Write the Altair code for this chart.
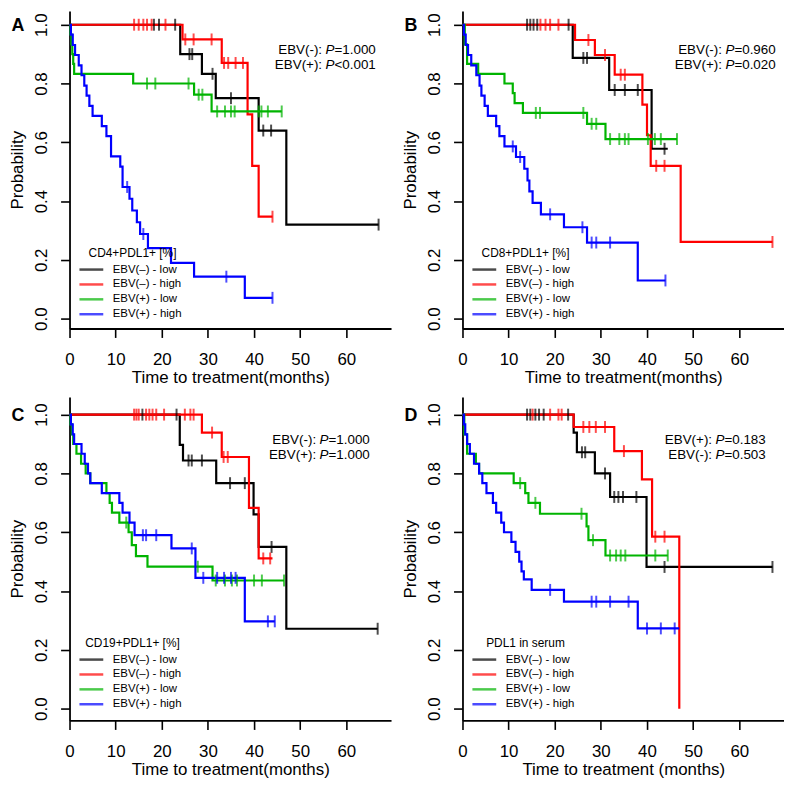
import altair as alt
import pandas as pd

GROUPS = ["EBV(–) - low", "EBV(–) - high", "EBV(+) - low", "EBV(+) - high"]
COLORS = ["#000000", "#FF0000", "#00B400", "#0000FF"]

# ---------------- Panel A : CD4+PDL1+ ----------------
A_nl_t = [0, 24, 28.7, 31.7, 41, 47]
A_nl_s = [1, 0.90, 0.833, 0.75, 0.64, 0.32]
A_nl_end = 67
A_nl_cens = [18.3, 19.4, 22.9, 26, 26.6, 31, 35, 42, 43.7, 67]

A_nh_t = [0, 24.5, 33, 38.6, 39.6, 41]
A_nh_s = [1, 0.95, 0.87, 0.695, 0.52, 0.347]
A_nh_end = 44
A_nh_cens = [14, 15, 16, 16.8, 17.8, 20.8, 25.1, 26.9, 30.8, 33.5, 34.4, 36, 37.6, 44]

A_pl_t = [0, 0.2, 0.4, 0.6, 0.8, 1.0, 13.8, 27, 30.8]
A_pl_s = [1, 0.967, 0.933, 0.9, 0.867, 0.833, 0.80, 0.762, 0.705]
A_pl_end = 46
A_pl_cens = [16.8, 18.6, 25.8, 28, 28.8, 32, 33.7, 35, 35.8, 41, 41.6, 43, 46]

A_ph_t = [0, 0.3, 0.7, 1.2, 2.0, 2.6, 3.2, 3.7, 4.3, 5.0, 7.0, 8.0, 9.0, 11.0, 11.5,
          13.0, 13.6, 14.6, 15.3, 17.0, 22.0, 27.0, 38.0]
A_ph_s = [1, 0.966, 0.931, 0.897, 0.862, 0.828, 0.793, 0.759, 0.724, 0.690, 0.655, 0.621,
          0.552, 0.517, 0.448, 0.408, 0.368, 0.328, 0.288, 0.24, 0.19, 0.143, 0.071]
A_ph_end = 44
A_ph_cens = [12.5, 16, 34, 44]

# ---------------- Panel B : CD8+PDL1+ ----------------
B_nl_t = [0, 23.9, 31.8, 41]
B_nl_s = [1, 0.887, 0.778, 0.578]
B_nl_end = 44.5
B_nl_cens = [14, 14.7, 15.4, 16.2, 23, 26.2, 27, 33, 35.2, 38, 43.8]

B_nh_t = [0, 24.4, 28.7, 33, 39, 40, 40.8, 47.3]
B_nh_s = [1, 0.948, 0.897, 0.83, 0.728, 0.624, 0.52, 0.261]
B_nh_end = 67.2
B_nh_cens = [16.9, 18, 19, 20.8, 27.3, 30.9, 34.3, 35.2, 42, 43.8, 67.2]

B_pl_t = [0, 0.5, 1.0, 3.4, 9.1, 10.9, 11.3, 13.1, 27, 31]
B_pl_s = [1, 0.933, 0.867, 0.833, 0.80, 0.767, 0.733, 0.70, 0.663, 0.611]
B_pl_end = 46.5
B_pl_cens = [15.9, 16.8, 26.2, 28, 29, 32, 34, 35.2, 36, 40.2, 41.7, 43, 46.5]

B_ph_t = [0, 0.3, 0.7, 1.2, 1.9, 3.0, 3.7, 4.1, 4.8, 5.5, 7.3, 8.0, 9.1, 11.6, 13.4,
          14.1, 14.5, 15.2, 17, 22, 27, 38]
B_ph_s = [1, 0.966, 0.931, 0.897, 0.862, 0.828, 0.793, 0.759, 0.724, 0.690, 0.655, 0.621,
          0.586, 0.55, 0.51, 0.47, 0.433, 0.394, 0.355, 0.311, 0.259, 0.13]
B_ph_end = 44
B_ph_cens = [10.9, 12.5, 19, 26, 28, 29, 32, 44]

# ---------------- Panel C : CD19+PDL1+ ----------------
C_nl_t = [0, 23.9, 24.6, 31.8, 39.9, 41, 47]
C_nl_s = [1, 0.897, 0.844, 0.767, 0.661, 0.55, 0.272]
C_nl_end = 66.8
C_nl_cens = [15.8, 23.2, 25.8, 26.5, 28.7, 34.8, 38, 43.8, 66.8]

C_nh_t = [0, 28.7, 33, 38.9, 41]
C_nh_s = [1, 0.939, 0.856, 0.683, 0.511]
C_nh_end = 44
C_nh_cens = [14, 14.5, 15, 16.6, 17.3, 18, 18.8, 20.5, 25, 26.2, 26.9, 30.9, 33.4, 34.3, 42, 43.5]

C_pl_t = [0, 0.2, 0.5, 0.8, 1.5, 2.5, 3.5, 4.5, 8.0, 8.7, 9.2, 10.8, 12.8, 13.5, 14.4, 16.9, 31]
C_pl_s = [1, 0.967, 0.933, 0.9, 0.867, 0.833, 0.80, 0.767, 0.733, 0.70, 0.667, 0.633,
          0.60, 0.556, 0.519, 0.483, 0.436]
C_pl_end = 46.5
C_pl_cens = [12.3, 27.8, 31.7, 33.7, 35.2, 36.3, 40, 41.7, 46.5]

C_ph_t = [0, 0.3, 0.7, 1.0, 2.6, 3.3, 4.0, 4.5, 7.0, 10.8, 11.5, 13.0, 14.1, 22.1, 27.3, 38]
C_ph_s = [1, 0.967, 0.933, 0.90, 0.867, 0.833, 0.80, 0.767, 0.733, 0.70, 0.667, 0.633,
          0.59, 0.545, 0.445, 0.297]
C_ph_end = 44.5
C_ph_cens = [15.9, 16.6, 18.8, 26.5, 29, 32, 33.5, 35, 36, 43, 44.5]

# ---------------- Panel D : PDL1 in serum ----------------
D_nl_t = [0, 24.1, 24.8, 28.7, 32, 39.9]
D_nl_s = [1, 0.939, 0.872, 0.80, 0.72, 0.482]
D_nl_end = 67.2
D_nl_cens = [14, 14.7, 15.8, 16.6, 17.6, 22.9, 25.9, 26.6, 30.9, 32.9, 33.8, 34.8, 37.7, 43.8, 67.2]

D_nh_t = [0, 24.1, 32.9, 38.9, 41.1, 47]
D_nh_s = [1, 0.958, 0.876, 0.78, 0.585, 0.0]
D_nh_end = 47
D_nh_cens = [15.2, 19, 20.8, 21.5, 26.2, 27.5, 28.9, 30.9, 35, 41.8, 43.8]

D_pl_t = [0, 0.4, 1.0, 2.9, 3.6, 11.1, 13.6, 14.3, 16.8, 26.9, 27.3, 31]
D_pl_s = [1, 0.933, 0.867, 0.833, 0.80, 0.767, 0.733, 0.70, 0.663, 0.62, 0.573, 0.521]
D_pl_end = 44.5
D_pl_cens = [12.5, 15.8, 25.8, 28.3, 32, 33.3, 34.3, 35.3, 41.8, 44.5]

D_ph_t = [0, 0.3, 0.6, 1.0, 1.6, 2.5, 3.6, 4.3, 5.2, 6.6, 7.3, 8.4, 9.0, 10.6, 11.5,
          12.3, 12.8, 13.3, 15, 22, 38]
D_ph_s = [1, 0.967, 0.933, 0.9, 0.867, 0.833, 0.80, 0.767, 0.733, 0.70, 0.667, 0.633,
          0.60, 0.567, 0.533, 0.50, 0.467, 0.44, 0.404, 0.364, 0.273]
D_ph_end = 47
D_ph_cens = [19, 28, 29, 32, 36, 40, 43, 46]

LEGEND_TITLES = ["CD4+PDL1+ [%]", "CD8+PDL1+ [%]", "CD19+PDL1+ [%]", "PDL1 in serum"]
PANEL_LETTERS = ["A", "B", "C", "D"]
X_TITLES = ["Time to treatment(months)", "Time to treatment(months)",
            "Time to treatment(months)", "Time to treatment (months)"]
P_PREFIX = [["EBV(-):", "EBV(+):"], ["EBV(-):", "EBV(+):"],
            ["EBV(-):", "EBV(+):"], ["EBV(+):", "EBV(-):"]]
P_VALUES = [["=1.000", "<0.001"], ["=0.960", "=0.020"],
            ["=1.000", "=1.000"], ["=0.183", "=0.503"]]
P_XPOS = [258, 265, 252, 255]
X_TICKS = [0, 10, 20, 30, 40, 50, 60]
Y_TICKS = [0.0, 0.2, 0.4, 0.6, 0.8, 1.0]

PANELS = [
    [(A_nl_t, A_nl_s, A_nl_end, A_nl_cens), (A_nh_t, A_nh_s, A_nh_end, A_nh_cens),
     (A_pl_t, A_pl_s, A_pl_end, A_pl_cens), (A_ph_t, A_ph_s, A_ph_end, A_ph_cens)],
    [(B_nl_t, B_nl_s, B_nl_end, B_nl_cens), (B_nh_t, B_nh_s, B_nh_end, B_nh_cens),
     (B_pl_t, B_pl_s, B_pl_end, B_pl_cens), (B_ph_t, B_ph_s, B_ph_end, B_ph_cens)],
    [(C_nl_t, C_nl_s, C_nl_end, C_nl_cens), (C_nh_t, C_nh_s, C_nh_end, C_nh_cens),
     (C_pl_t, C_pl_s, C_pl_end, C_pl_cens), (C_ph_t, C_ph_s, C_ph_end, C_ph_cens)],
    [(D_nl_t, D_nl_s, D_nl_end, D_nl_cens), (D_nh_t, D_nh_s, D_nh_end, D_nh_cens),
     (D_pl_t, D_pl_s, D_pl_end, D_pl_cens), (D_ph_t, D_ph_s, D_ph_end, D_ph_cens)],
]

FONT = "Liberation Sans"
W = 324
HEIGHTS = [320, 320, 326, 326]
Y_DOMAINS = [[-0.0334, 1.0468], [-0.0334, 1.0468], [-0.04, 1.06], [-0.04, 1.06]]


def step_at(ts, ss, t):
    v = ss[0]
    for ti, si in zip(ts, ss):
        if ti <= t:
            v = si
    return v


def make_panel(i):
    line_rows, cens_rows = [], []
    for g, (ts, ss, end, cens) in zip(GROUPS, PANELS[i]):
        k = 0
        for t, s in zip(ts, ss):
            line_rows.append({"group": g, "t": t, "s": s, "k": k})
            k += 1
        if end > ts[-1]:
            line_rows.append({"group": g, "t": end, "s": ss[-1], "k": k})
        for c in cens:
            cens_rows.append({"group": g, "t": c, "s": step_at(ts, ss, c)})
    lines_df = pd.DataFrame(line_rows)
    cens_df = pd.DataFrame(cens_rows)

    h = HEIGHTS[i]
    d0, d1 = Y_DOMAINS[i]
    unit = h / (d1 - d0)
    y_one = (d1 - 1.0) * unit          # pixel of S = 1.0
    y_zero = d1 * unit                 # pixel of S = 0.0

    legend = alt.Legend(
        title=LEGEND_TITLES[i], orient="none", legendX=14.5, legendY=y_zero - 71,
        symbolType="M-2,0L2,0", symbolSize=144, symbolStrokeWidth=2.5,
        labelFont=FONT, labelFontSize=11.5, labelColor="black",
        titleFont=FONT, titleFontSize=12, titleFontWeight="normal", titleColor="black",
        titleAnchor="middle", labelOffset=14, rowPadding=2, padding=0, titlePadding=2,
    )
    color = alt.Color("group:N", scale=alt.Scale(domain=GROUPS, range=COLORS), legend=legend)
    xenc = alt.X("t:Q", scale=alt.Scale(domain=[0, 69.7], nice=False, zero=False),
                 axis=alt.Axis(values=X_TICKS, title=X_TITLES[i], labelPadding=14,
                               titlePadding=2, labelFlush=False))
    yenc = alt.Y("s:Q", scale=alt.Scale(domain=[d0, d1], nice=False, zero=False),
                 axis=alt.Axis(values=Y_TICKS, format=".1f", title="Probability",
                               labelAngle=270, labelAlign="center", labelBaseline="bottom",
                               labelPadding=10, titlePadding=6))

    lines = alt.Chart(lines_df).mark_line(interpolate="step-after", strokeWidth=2.2).encode(
        x=xenc, y=yenc, color=color, order="k:Q")
    ticks = alt.Chart(cens_df).mark_tick(orient="vertical", size=12, thickness=2).encode(
        x="t:Q", y="s:Q", color=color)

    layers = [lines, ticks]
    for j in range(2):
        yy = y_one + 26 + 15 * j
        layers.append(alt.Chart(pd.DataFrame({"txt": [P_PREFIX[i][j]]})).mark_text(
            align="right", baseline="middle", font=FONT, fontSize=13.5, color="black").encode(
            x=alt.value(P_XPOS[i] - 3.5), y=alt.value(yy), text="txt:N"))
        layers.append(alt.Chart(pd.DataFrame({"txt": ["P"]})).mark_text(
            align="left", baseline="middle", font=FONT, fontSize=13.5, fontStyle="italic",
            color="black").encode(x=alt.value(P_XPOS[i]), y=alt.value(yy), text="txt:N"))
        layers.append(alt.Chart(pd.DataFrame({"txt": [P_VALUES[i][j]]})).mark_text(
            align="left", baseline="middle", font=FONT, fontSize=13.5, color="black").encode(
            x=alt.value(P_XPOS[i] + 9), y=alt.value(yy), text="txt:N"))
    layers.append(alt.Chart(pd.DataFrame({"txt": [PANEL_LETTERS[i]]})).mark_text(
        align="center", baseline="middle", font=FONT, fontSize=18, fontWeight="bold",
        color="black").encode(x=alt.value(-52), y=alt.value(y_one + 1), text="txt:N"))

    return alt.layer(*layers).properties(width=W, height=h)


pA, pB, pC, pD = [make_panel(i) for i in range(4)]
row1 = alt.hconcat(pA, pB, spacing=10).resolve_scale(color="independent").resolve_legend(color="independent")
row2 = alt.hconcat(pC, pD, spacing=10).resolve_scale(color="independent").resolve_legend(color="independent")
chart = alt.vconcat(row1, row2, spacing=12).resolve_scale(color="independent").resolve_legend(
    color="independent").properties(padding=0).configure_axis(
    labelFont=FONT, titleFont=FONT, labelFontSize=17, titleFontSize=17,
    labelColor="black", titleColor="black", titleFontWeight="normal",
    domainColor="black", tickColor="black", domainWidth=1.8, tickWidth=1.6,
    tickSize=9, grid=False, labelOverlap=False,
).configure_view(stroke=None)

chart.save("out.html", embed_options={"renderer": "svg", "actions": False})
